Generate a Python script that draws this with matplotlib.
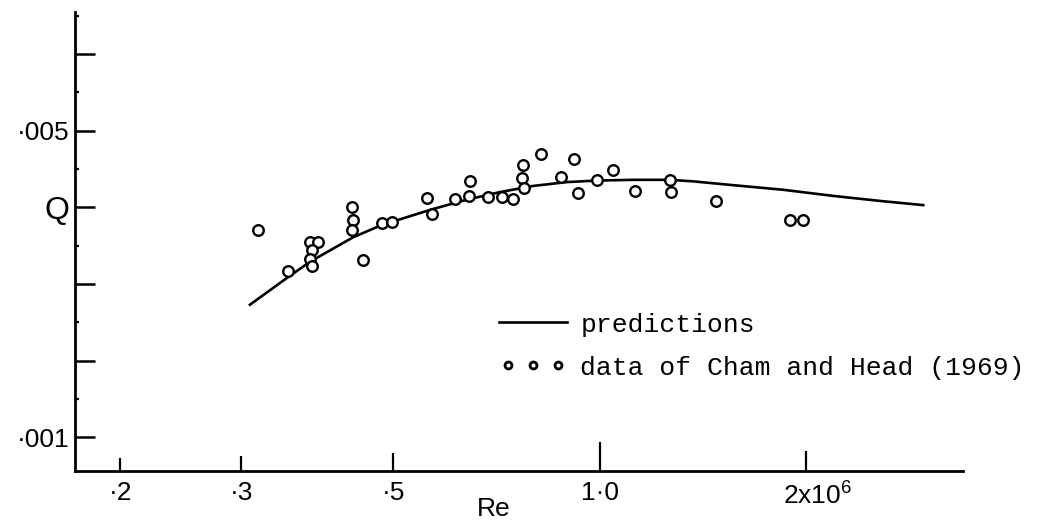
import numpy as np
from matplotlib import pyplot as plt
from matplotlib.lines import Line2D
from matplotlib.legend_handler import HandlerLine2D
from matplotlib.ticker import FixedLocator, FixedFormatter, NullLocator, MultipleLocator
from matplotlib.transforms import ScaledTranslation

# Reynolds number in units of 10^6
pred_re = [0.309, 0.350, 0.378, 0.437, 0.481, 0.572, 0.640, 0.716, 0.800, 0.895,
           0.990, 1.120, 1.267, 1.369, 1.567, 1.853, 2.192, 2.593, 2.966]
pred_q = [0.00273, 0.00308, 0.00329, 0.00361, 0.00377, 0.00398, 0.00410, 0.00420, 0.00428, 0.00433,
          0.00435, 0.00436, 0.00436, 0.00434, 0.00429, 0.00423, 0.00415, 0.00408, 0.00403]

# measurements of Cham and Head (1969)
data_re = [0.317, 0.351, 0.378, 0.389, 0.380, 0.378, 0.380, 0.435, 0.437, 0.436,
           0.452, 0.481, 0.498, 0.560, 0.570, 0.616, 0.644, 0.647, 0.687, 0.721,
           0.747, 0.772, 0.770, 0.776, 0.821, 0.878, 0.918, 0.929, 0.990, 1.047,
           1.126, 1.266, 1.271, 1.477, 1.896, 1.982]
data_q = [0.00370, 0.00317, 0.00355, 0.00355, 0.00344, 0.00333, 0.00323, 0.00401, 0.00383, 0.00370,
          0.00332, 0.00380, 0.00381, 0.00412, 0.00392, 0.00411, 0.00415, 0.00435, 0.00413, 0.00413,
          0.00411, 0.00455, 0.00438, 0.00425, 0.00470, 0.00440, 0.00463, 0.00419, 0.00436, 0.00449,
          0.00421, 0.00436, 0.00420, 0.00408, 0.00383, 0.00384]

x_ticks = [0.2, 0.3, 0.5, 1.0, 2.0]
x_labels = ['\u00b72', '\u00b73', '\u00b75', '1\u00b70', '2x10$^6$']
x_tick_len = [13, 15, 18, 29, 20]  # pixels
y_ticks = [0.001, 0.002, 0.003, 0.004, 0.005, 0.006]
y_labels = ['\u00b7001', '', '', 'Q', '\u00b7005', '']

plt.rcParams['font.family'] = ['Liberation Sans', 'DejaVu Sans']
plt.rcParams['mathtext.fontset'] = 'custom'
plt.rcParams['mathtext.rm'] = 'Liberation Sans'

fig = plt.figure(figsize=(10.38, 5.22), dpi=100)
ax = fig.add_axes([75/1038, 51/522, 888/1038, 459/522])

ax.plot(pred_re, pred_q, color='k', lw=1.9, label='predictions')
ax.plot(data_re, data_q, ls='none', marker='o', ms=7.6, mfc='white', mec='k', mew=1.7)

ax.set_xscale('log')
ax.set_xlim(0.1717, 3.39)
ax.set_ylim(0.00056, 0.00655)

for s in ['top', 'right']:
    ax.spines[s].set_visible(False)
for s in ['left', 'bottom']:
    ax.spines[s].set_linewidth(2.0)

ax.xaxis.set_major_locator(FixedLocator(x_ticks))
ax.xaxis.set_major_formatter(FixedFormatter(x_labels))
ax.xaxis.set_minor_locator(NullLocator())
ax.tick_params(axis='x', direction='in', width=1.6, labelsize=19, pad=7)
for t, ln in zip(ax.xaxis.get_major_ticks(), x_tick_len):
    t.tick1line.set_markersize(ln * 0.72)

ax.yaxis.set_major_locator(FixedLocator(y_ticks))
ax.yaxis.set_major_formatter(FixedFormatter(y_labels))
ax.yaxis.set_minor_locator(MultipleLocator(0.001, offset=0.0005))
ax.tick_params(axis='y', which='major', direction='in', length=14.5, width=1.8,
               labelsize=19, pad=4)
ax.tick_params(axis='y', which='minor', direction='in', length=3, width=1.6)
ax.get_yticklabels()[3].set_fontsize(23)

# shift the 2x10^6 label a little to the right
lbl = ax.get_xticklabels()[-1]
lbl.set_transform(lbl.get_transform() + ScaledTranslation(12/100, 0, fig.dpi_scale_trans))

fig.text(494/1038, 1 - 509/522, 'Re', fontsize=19, ha='center', va='center')

line_handle = Line2D([], [], color='k', lw=1.9)
dots_handle = Line2D([], [], ls='none', marker='o', ms=5, mfc='white', mec='k', mew=2)
ax.legend([line_handle, dots_handle], ['predictions', 'data of Cham and Head (1969)'],
          handler_map={dots_handle: HandlerLine2D(numpoints=3, marker_pad=0.35)},
          frameon=False, loc='upper left', bbox_to_anchor=(488/1038, 1 - 302/522),
          bbox_transform=fig.transFigure, handlelength=2.6, handletextpad=0.5,
          labelspacing=0.72, borderaxespad=0,
          prop={'family': 'Liberation Mono', 'size': 19})

plt.savefig('out.png', dpi=100)
